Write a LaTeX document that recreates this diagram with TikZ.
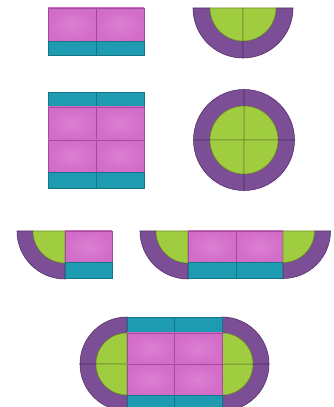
\documentclass[tikz,border=0pt]{standalone}
\definecolor{seatpink}{HTML}{D26CC8}
\definecolor{seatpinklight}{HTML}{DC80D3}
\definecolor{seatpinkdark}{HTML}{A14C9B}
\definecolor{backteal}{HTML}{1E9BB0}
\definecolor{backtealdark}{HTML}{137586}
\definecolor{armpurple}{HTML}{7B4E95}
\definecolor{armpurpledark}{HTML}{553268}
\definecolor{cornergreen}{HTML}{A0CC40}
\definecolor{cornergreendark}{HTML}{6F8F2A}
\tikzset{
  seatpiece/.style={inner color=seatpinklight, outer color=seatpink, draw=seatpinkdark, line width=0.6pt},
  backpiece/.style={fill=backteal, draw=backtealdark, line width=0.6pt},
  armpiece/.style={fill=armpurple, draw=armpurpledark, line width=0.6pt},
  greenpiece/.style={fill=cornergreen, draw=cornergreendark, line width=0.6pt},
}
% #1 cx, #2 cy, #3 start angle, #4 outer radius, #5 inner radius
\newcommand{\sofacorner}[5]{%
  \path[armpiece] ([shift={(#1,#2)}]#3:#4) arc[start angle=#3, end angle=#3+90, radius=#4]
    -- ([shift={(#1,#2)}]#3+90:#5) arc[start angle=#3+90, end angle=#3, radius=#5] -- cycle;
  \path[greenpiece] (#1,#2) -- ([shift={(#1,#2)}]#3:#5) arc[start angle=#3, end angle=#3+90, radius=#5] -- cycle;
}
\begin{document}
\begin{tikzpicture}[x=1pt,y=1pt]
\useasboundingbox (0,0) rectangle (334,407);
% Shape 1: two seats with backs
\path[seatpiece] (48,399) rectangle (96,366);
\path[seatpiece] (96,399) rectangle (144,366);
\path[backpiece] (48,366) rectangle (96,352);
\path[backpiece] (96,366) rectangle (144,352);
% Shape 2: half circle
\sofacorner{243}{399}{180}{50}{33}
\sofacorner{243}{399}{270}{50}{33}
% Shape 3: square
\path[backpiece] (48,315) rectangle (96,300);
\path[backpiece] (96,315) rectangle (144,300);
\path[seatpiece] (48,300) rectangle (96,267);
\path[seatpiece] (96,300) rectangle (144,267);
\path[seatpiece] (48,267) rectangle (96,235);
\path[seatpiece] (96,267) rectangle (144,235);
\path[backpiece] (48,235) rectangle (96,219);
\path[backpiece] (96,235) rectangle (144,219);
% Shape 4: full circle
\sofacorner{244}{267}{0}{50.5}{34}
\sofacorner{244}{267}{90}{50.5}{34}
\sofacorner{244}{267}{180}{50.5}{34}
\sofacorner{244}{267}{270}{50.5}{34}
% Shape 5: corner + seat
\sofacorner{65}{176}{180}{48}{32}
\path[seatpiece] (65,176) rectangle (112,145);
\path[backpiece] (65,145) rectangle (112,129);
% Shape 6: corner + two seats + corner
\sofacorner{188}{176}{180}{48}{32}
\path[seatpiece] (188,176) rectangle (236,145);
\path[seatpiece] (236,176) rectangle (283,145);
\path[backpiece] (188,145) rectangle (236,129);
\path[backpiece] (236,145) rectangle (283,129);
\sofacorner{283}{176}{270}{47.5}{31.5}
% Shape 7: oval
\sofacorner{127}{43}{90}{47}{31}
\sofacorner{127}{43}{180}{47}{31}
\sofacorner{222}{43}{270}{47}{31}
\sofacorner{222}{43}{0}{47}{31}
\path[backpiece] (127,90) rectangle (174.5,74);
\path[backpiece] (174.5,90) rectangle (222,74);
\path[seatpiece] (127,74) rectangle (174.5,43);
\path[seatpiece] (174.5,74) rectangle (222,43);
\path[seatpiece] (127,43) rectangle (174.5,12);
\path[seatpiece] (174.5,43) rectangle (222,12);
\path[backpiece] (127,12) rectangle (174.5,-4);
\path[backpiece] (174.5,12) rectangle (222,-4);
\end{tikzpicture}
\end{document}
